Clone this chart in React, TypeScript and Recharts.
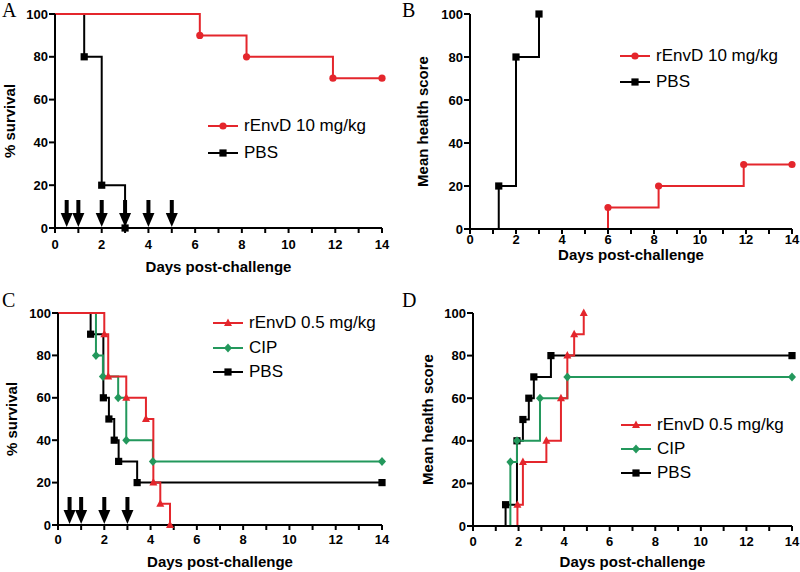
import React from 'react';
import { ComposedChart, Line, Scatter, XAxis, YAxis } from 'recharts';

const RED = '#e4262c';
const GREEN = '#23985c';
const BLACK = '#000000';
const SANS = '"Liberation Sans", Arial, sans-serif';

// A - survival, rEnvD 10 mg/kg vs PBS
const daysA_rEnvD = [0, 6.2, 8.2, 11.9, 14];
const survA_rEnvD = [100, 90, 80, 70, 70];
const daysA_PBS = [0, 1.25, 2, 3];
const survA_PBS = [100, 80, 20, 0];
const dosingDaysA = [0.5, 1, 2, 3, 4, 5];

// B - health score, rEnvD 10 mg/kg vs PBS
const daysB_rEnvD = [0, 6, 8.2, 11.9, 14];
const scoreB_rEnvD = [0, 10, 20, 30, 30];
const daysB_PBS = [0, 1.25, 2, 3];
const scoreB_PBS = [0, 20, 80, 100];

// C - survival, rEnvD 0.5 mg/kg, CIP, PBS
const daysC_rEnvD = [0, 2, 2.17, 2.95, 3.8, 4.12, 4.42, 4.84];
const survC_rEnvD = [100, 90, 70, 60, 50, 20, 10, 0];
const daysC_CIP = [0, 1.64, 1.94, 2.6, 2.95, 4.1, 14];
const survC_CIP = [100, 80, 70, 60, 40, 30, 30];
const daysC_PBS = [0, 1.41, 1.96, 2.2, 2.43, 2.62, 3.42, 14];
const survC_PBS = [100, 90, 60, 50, 40, 30, 20, 20];
const dosingDaysC = [0.5, 1, 2, 3];

// D - health score, rEnvD 0.5 mg/kg, CIP, PBS
const daysD_rEnvD = [0, 1.95, 2.19, 3.22, 3.86, 4.14, 4.44, 4.86];
const scoreD_rEnvD = [0, 10, 30, 40, 60, 80, 90, 100];
const daysD_CIP = [0, 1.64, 1.93, 2.94, 4.14, 14];
const scoreD_CIP = [0, 30, 40, 60, 70, 70];
const daysD_PBS = [0, 1.43, 1.93, 2.19, 2.45, 2.67, 3.42, 14];
const scoreD_PBS = [0, 10, 40, 50, 60, 70, 80, 80];

const xTicks = [0, 1, 2, 3, 4, 5, 6, 7, 8, 9, 10, 11, 12, 13, 14];
const yTicks = [0, 20, 40, 60, 80, 100];

type Shape = 'circle' | 'square' | 'diamond' | 'triangle';

interface Series {
  name: string;
  color: string;
  shape: Shape;
  days: number[];
  values: number[];
}

const toRows = (days: number[], values: number[]) => days.map((x, i) => ({ x, y: values[i] }));

const Marker = ({ shape, cx, cy, color }: { shape: Shape; cx: number; cy: number; color: string }) => {
  if (shape === 'circle') return <circle cx={cx} cy={cy} r={3.6} fill={color} />;
  if (shape === 'square') return <rect x={cx - 3.6} y={cy - 3.6} width={7.2} height={7.2} fill={color} />;
  if (shape === 'diamond')
    return <polygon points={`${cx},${cy - 4.5} ${cx + 4},${cy} ${cx},${cy + 4.5} ${cx - 4},${cy}`} fill={color} />;
  return <polygon points={`${cx},${cy - 4.5} ${cx + 4},${cy + 3} ${cx - 4},${cy + 3}`} fill={color} />;
};

const makeDot = (s: Series) => (props: any) => {
  const { cx, cy, index } = props;
  if (index === 0 || cx == null) return <g key={`d-${index}`} />;
  return <Marker key={`d-${index}`} shape={s.shape} cx={cx} cy={cy} color={s.color} />;
};

const Arrow = (props: any) => {
  const { cx, cy } = props;
  return (
    <g fill={BLACK}>
      <rect x={cx - 2} y={cy - 28} width={4} height={14} />
      <polygon points={`${cx - 6},${cy - 15} ${cx + 6},${cy - 15} ${cx},${cy - 1}`} />
    </g>
  );
};

const XTick = (props: any) => {
  const { x, y, payload } = props;
  if (payload.value % 2 !== 0) return <g />;
  return (
    <text x={x} y={y} dy="0.71em" textAnchor="middle" fill={BLACK} fontSize={13} fontWeight="bold" fontFamily={SANS}>
      {payload.value}
    </text>
  );
};

const YTick = (props: any) => {
  const { x, y, payload } = props;
  return (
    <text x={x} y={y} dy="0.36em" textAnchor="end" fill={BLACK} fontSize={13} fontWeight="bold" fontFamily={SANS}>
      {payload.value}
    </text>
  );
};

interface PanelProps {
  letter: string;
  left: number;
  top: number;
  width: number;
  height: number;
  marginTop: number;
  marginRight: number;
  yAxisWidth: number;
  xAxisHeight: number;
  xTickMargin: number;
  yLabel: string;
  yLabelOffset: number;
  xLabelOffset: number;
  series: Series[];
  arrows?: number[];
  legendX: number;
  legendY: number;
  legendGap: number;
}

const Panel = (p: PanelProps) => {
  const labelStyle = { fill: BLACK, fontSize: 15, fontWeight: 'bold', fontFamily: SANS };
  return (
    <div style={{ position: 'absolute', left: p.left, top: p.top, width: p.width, height: p.height }}>
      <ComposedChart
        width={p.width}
        height={p.height}
        margin={{ top: p.marginTop, right: p.marginRight, bottom: 0, left: 0 }}
      >
        <XAxis
          dataKey="x"
          type="number"
          domain={[0, 14]}
          ticks={xTicks}
          interval={0}
          height={p.xAxisHeight}
          axisLine={{ stroke: BLACK, strokeWidth: 2 }}
          tickLine={{ stroke: BLACK, strokeWidth: 2 }}
          tickSize={5}
          tickMargin={p.xTickMargin}
          tick={<XTick />}
          label={{ value: 'Days post-challenge', position: 'insideBottom', offset: p.xLabelOffset, style: labelStyle }}
        />
        <YAxis
          type="number"
          domain={[0, 100]}
          ticks={yTicks}
          interval={0}
          width={p.yAxisWidth}
          axisLine={{ stroke: BLACK, strokeWidth: 2 }}
          tickLine={{ stroke: BLACK, strokeWidth: 2 }}
          tickSize={6}
          tickMargin={1}
          tick={<YTick />}
          label={{
            value: p.yLabel,
            angle: -90,
            position: 'insideLeft',
            offset: p.yLabelOffset,
            style: { ...labelStyle, textAnchor: 'middle' },
          }}
        />
        {p.arrows && (
          <Scatter
            data={p.arrows.map((x) => ({ x, y: 0 }))}
            dataKey="y"
            shape={Arrow}
            isAnimationActive={false}
          />
        )}
        {p.series.map((s) => (
          <Line
            key={s.name}
            data={toRows(s.days, s.values)}
            dataKey="y"
            type="stepAfter"
            stroke={s.color}
            strokeWidth={2}
            dot={makeDot(s)}
            activeDot={false}
            isAnimationActive={false}
          />
        ))}
      </ComposedChart>
      <div
        style={{
          position: 'absolute',
          left: 2,
          top: 0,
          fontFamily: '"Liberation Serif", "Times New Roman", serif',
          fontSize: 20,
          lineHeight: '20px',
        }}
      >
        {p.letter}
      </div>
      {[...p.series].reverse().map((s, i) => (
        <div
          key={s.name}
          style={{
            position: 'absolute',
            left: p.legendX,
            top: p.legendY + i * p.legendGap - 10,
            height: 20,
            display: 'flex',
            alignItems: 'center',
            whiteSpace: 'nowrap',
          }}
        >
          <svg width={30} height={20}>
            <line x1={0} y1={10} x2={30} y2={10} stroke={s.color} strokeWidth={2} />
            <Marker shape={s.shape} cx={15} cy={10} color={s.color} />
          </svg>
          <span style={{ marginLeft: 6, fontFamily: SANS, fontSize: 17, color: BLACK }}>{s.name}</span>
        </div>
      ))}
    </div>
  );
};

const seriesA: Series[] = [
  { name: 'PBS', color: BLACK, shape: 'square', days: daysA_PBS, values: survA_PBS },
  { name: 'rEnvD 10 mg/kg', color: RED, shape: 'circle', days: daysA_rEnvD, values: survA_rEnvD },
];
const seriesB: Series[] = [
  { name: 'PBS', color: BLACK, shape: 'square', days: daysB_PBS, values: scoreB_PBS },
  { name: 'rEnvD 10 mg/kg', color: RED, shape: 'circle', days: daysB_rEnvD, values: scoreB_rEnvD },
];
const seriesC: Series[] = [
  { name: 'PBS', color: BLACK, shape: 'square', days: daysC_PBS, values: survC_PBS },
  { name: 'CIP', color: GREEN, shape: 'diamond', days: daysC_CIP, values: survC_CIP },
  { name: 'rEnvD 0.5 mg/kg', color: RED, shape: 'triangle', days: daysC_rEnvD, values: survC_rEnvD },
];
const seriesD: Series[] = [
  { name: 'PBS', color: BLACK, shape: 'square', days: daysD_PBS, values: scoreD_PBS },
  { name: 'CIP', color: GREEN, shape: 'diamond', days: daysD_CIP, values: scoreD_CIP },
  { name: 'rEnvD 0.5 mg/kg', color: RED, shape: 'triangle', days: daysD_rEnvD, values: scoreD_rEnvD },
];

export default function App() {
  return (
    <div style={{ position: 'absolute', left: 0, top: 0, width: 800, height: 572, background: '#fff' }}>
      <Panel
        letter="A"
        left={0}
        top={0}
        width={400}
        height={290}
        marginTop={14}
        marginRight={18}
        yAxisWidth={55}
        xAxisHeight={62}
        xTickMargin={7}
        yLabel="% survival"
        yLabelOffset={10}
        xLabelOffset={18}
        series={seriesA}
        arrows={dosingDaysA}
        legendX={208}
        legendY={126}
        legendGap={27}
      />
      <Panel
        letter="B"
        left={400}
        top={0}
        width={400}
        height={290}
        marginTop={14}
        marginRight={8}
        yAxisWidth={70}
        xAxisHeight={61}
        xTickMargin={1}
        yLabel="Mean health score"
        yLabelOffset={23}
        xLabelOffset={30}
        series={seriesB}
        legendX={220}
        legendY={56}
        legendGap={26}
      />
      <Panel
        letter="C"
        left={0}
        top={290}
        width={400}
        height={282}
        marginTop={23}
        marginRight={18}
        yAxisWidth={58}
        xAxisHeight={47}
        xTickMargin={5}
        yLabel="% survival"
        yLabelOffset={12}
        xLabelOffset={5}
        series={seriesC}
        arrows={dosingDaysC}
        legendX={213}
        legendY={33}
        legendGap={24.5}
      />
      <Panel
        letter="D"
        left={400}
        top={290}
        width={400}
        height={282}
        marginTop={23}
        marginRight={8}
        yAxisWidth={73}
        xAxisHeight={46}
        xTickMargin={6}
        yLabel="Mean health score"
        yLabelOffset={28}
        xLabelOffset={5}
        series={seriesD}
        legendX={221}
        legendY={135}
        legendGap={24}
      />
    </div>
  );
}
